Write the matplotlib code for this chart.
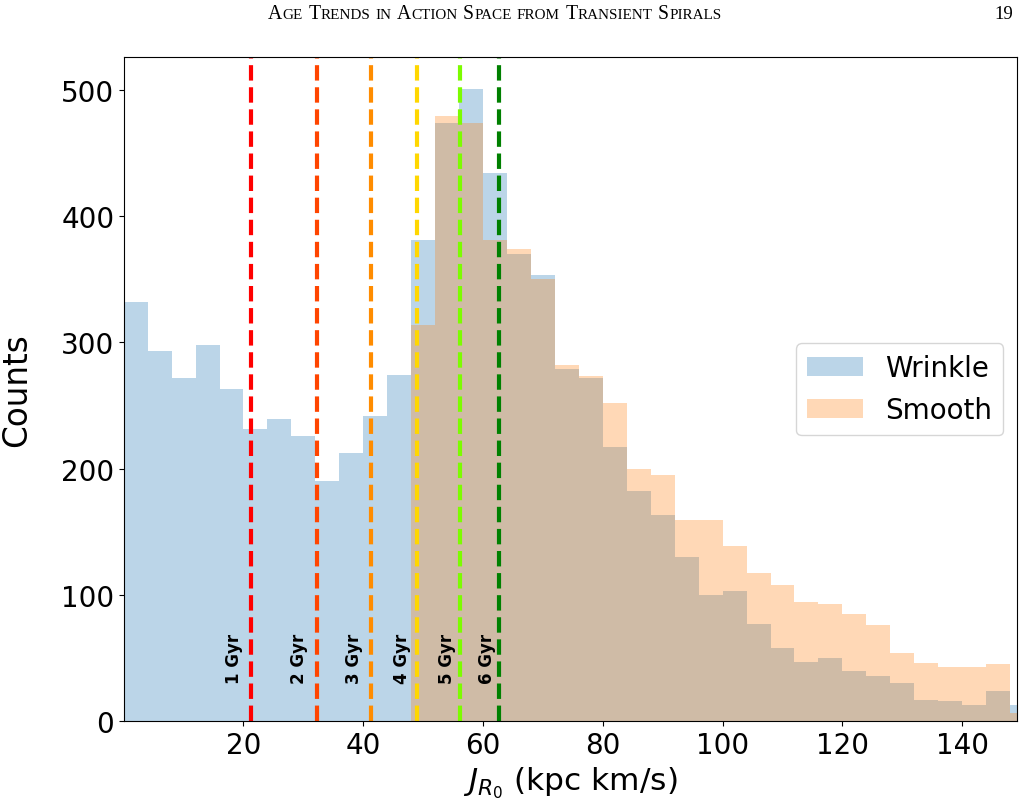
import numpy as np
import matplotlib
matplotlib.use("Agg")
import matplotlib.pyplot as plt

# ---------------- data ----------------
bin_edges = list(range(0, 153, 4))  # 0,4,...,152
wrinkle_counts = [332, 293, 272, 298, 263, 231, 239, 226, 190, 212, 242, 274,
                  381, 474, 501, 434, 370, 353, 279, 272, 217, 182, 163, 130,
                  100, 103, 77, 58, 47, 50, 40, 36, 30, 17, 16, 13, 24, 13]
smooth_counts = [0, 0, 0, 0, 0, 0, 0, 0, 0, 0, 0, 0,
                 314, 479, 474, 381, 374, 350, 282, 273, 252, 200, 195, 159,
                 159, 139, 117, 108, 94, 93, 85, 76, 54, 46, 43, 43, 45, 6]
age_labels = ["1 Gyr", "2 Gyr", "3 Gyr", "4 Gyr", "5 Gyr", "6 Gyr"]
age_J = [21.3, 32.3, 41.25, 49.05, 56.1, 62.6]
age_colors = ["red", "orangered", "darkorange", "gold", "lawngreen", "green"]
label_x = [19.85, 30.85, 40.0, 48.0, 55.5, 62.2]

header_text = "Age Trends in Action Space from Transient Spirals"
page_number = "19"

# ---------------- figure ----------------
W, H = 1024, 812
fig = plt.figure(figsize=(W / 100, H / 100), dpi=100)
ax = fig.add_axes([124 / W, 1 - 722 / H, (1017 - 124) / W, (722 - 58) / H])

edges = np.array(bin_edges, dtype=float)
centers = 0.5 * (edges[:-1] + edges[1:])
ax.hist(centers, bins=edges, weights=wrinkle_counts, alpha=0.3,
        color="C0", label="Wrinkle")
ax.hist(centers, bins=edges, weights=smooth_counts, alpha=0.3,
        color="C1", label="Smooth")

for lab, xj, c, xt in zip(age_labels, age_J, age_colors, label_x):
    ax.axvline(xj, color=c, linestyle="--", linewidth=3)
    ax.text(xt, 30, lab, rotation=90, ha="right", va="bottom",
            fontsize=12, fontweight="bold")

ax.set_xlim(0.05, 149.15)
ax.set_ylim(0, 526)
ax.set_xticks([20, 40, 60, 80, 100, 120, 140])
ax.set_yticks([0, 100, 200, 300, 400, 500])
ax.tick_params(labelsize=20)
ax.set_xlabel(r"$J_{R_0}$ (kpc km/s)", fontsize=22.5)
ax.set_ylabel("Counts", fontsize=23.5, labelpad=20)
ax.legend(loc="center right", fontsize=20)

# ---------------- page header (small caps) ----------------
renderer = fig.canvas.get_renderer()
big, small = 14.2, 10.9
serif = "Liberation Serif"
pieces = []
for word in header_text.split(" "):
    runs = []
    for ch in word:
        is_big = ch.isupper()
        if runs and runs[-1][1] == is_big:
            runs[-1][0] += ch.upper()
        else:
            runs.append([ch.upper(), is_big])
    pieces.append(runs)

base_y = 1 - 19.3 / H
x = 0.0
objs = []
space_px = 0.25 * big * 100 / 72
for wi, runs in enumerate(pieces):
    if wi > 0:
        x += space_px
    for txt, is_big in runs:
        t = fig.text(0, base_y, txt, fontsize=big if is_big else small,
                     family=serif, va="baseline", ha="left")
        w = t.get_window_extent(renderer).width
        objs.append((t, x))
        x += w + 0.3
total = x
start = 495 - total / 2
for t, off in objs:
    t.set_x((start + off) / W)

fig.text(1013 / W, base_y, page_number, fontsize=13.5, family=serif,
         va="baseline", ha="right")

fig.savefig("out.png", dpi=100)
